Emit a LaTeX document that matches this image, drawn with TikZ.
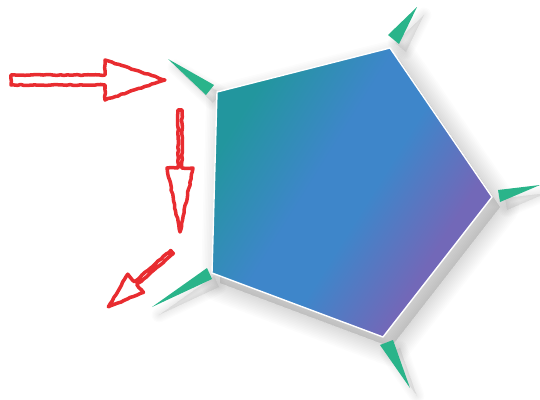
\documentclass[tikz,border=0pt]{standalone}
\usetikzlibrary{decorations.pathmorphing}
\definecolor{tealtop}{RGB}{34,150,158}
\definecolor{bluemid}{RGB}{62,134,202}
\definecolor{violetlow}{RGB}{114,104,184}
\definecolor{spikegreen}{RGB}{42,180,138}
\definecolor{pencilred}{RGB}{232,44,48}
\pgfdeclareverticalshading{pentashade}{100bp}{color(0bp)=(violetlow);
  color(32bp)=(violetlow); color(47bp)=(bluemid); color(57bp)=(bluemid);
  color(74bp)=(tealtop); color(100bp)=(tealtop)}
\tikzset{
  sketch/.style={pencilred,line width=2pt,line join=round,
    decorate,decoration={random steps,segment length=2pt,amplitude=0.3pt}},
  softshadow/.style={black,opacity=0.012,line join=round},
}
\pgfmathsetseed{11}
\def\pentagon{(217,92) -- (390,48) -- (492,197) -- (383,337) -- (212,273) -- cycle}

\begin{document}
\begin{tikzpicture}[x=0.02cm,y=-0.02cm]
    \useasboundingbox (0,0) rectangle (540,399);
    % blurred shadow of the pentagon
    \foreach \w in {1,...,12}
      \draw[softshadow,fill,line width=\w*1.8pt,shift={(8,10)}] \pentagon;
    % spikes at the corners, with their shadows
    \foreach \tx/\ty/\ax/\ay/\bx/\by in {
      168/59/214/85/206/95,
      417/7/388/35/399/44,
      540/185/498/190/500/202,
      410/388/380/345/393/340,
      152/307/207/268/212/279}
    {
      \foreach \w in {1,...,6}
        \draw[softshadow,fill,line width=\w*1.4pt,shift={(7,8)}]
          (\tx,\ty) -- (\ax,\ay) -- (\bx,\by) -- cycle;
      \fill[spikegreen] (\tx,\ty) -- (\ax,\ay) -- (\bx,\by) -- cycle;
    }
    \shade[shading=pentashade,shading angle=58] \pentagon;
    \draw[white,line width=0.8pt,line join=round] \pentagon;
    % hand drawn hollow arrows
    \foreach \x/\y/\a/\l/\h/\w/\s in {
      11/80/0/154/60/20/5,
      180/110/-90/122/64/13/2,
      172/252/-139.3/84/36/12/2}
    {
      \draw[sketch,shift={(\x,\y)},rotate=\a]
        (0,-\s) -- (\l-\h,-\s) -- (\l-\h,-\w) -- (\l,0) -- (\l-\h,\w)
        -- (\l-\h,\s) -- (0,\s) -- cycle;
    }
\end{tikzpicture}
\end{document}
